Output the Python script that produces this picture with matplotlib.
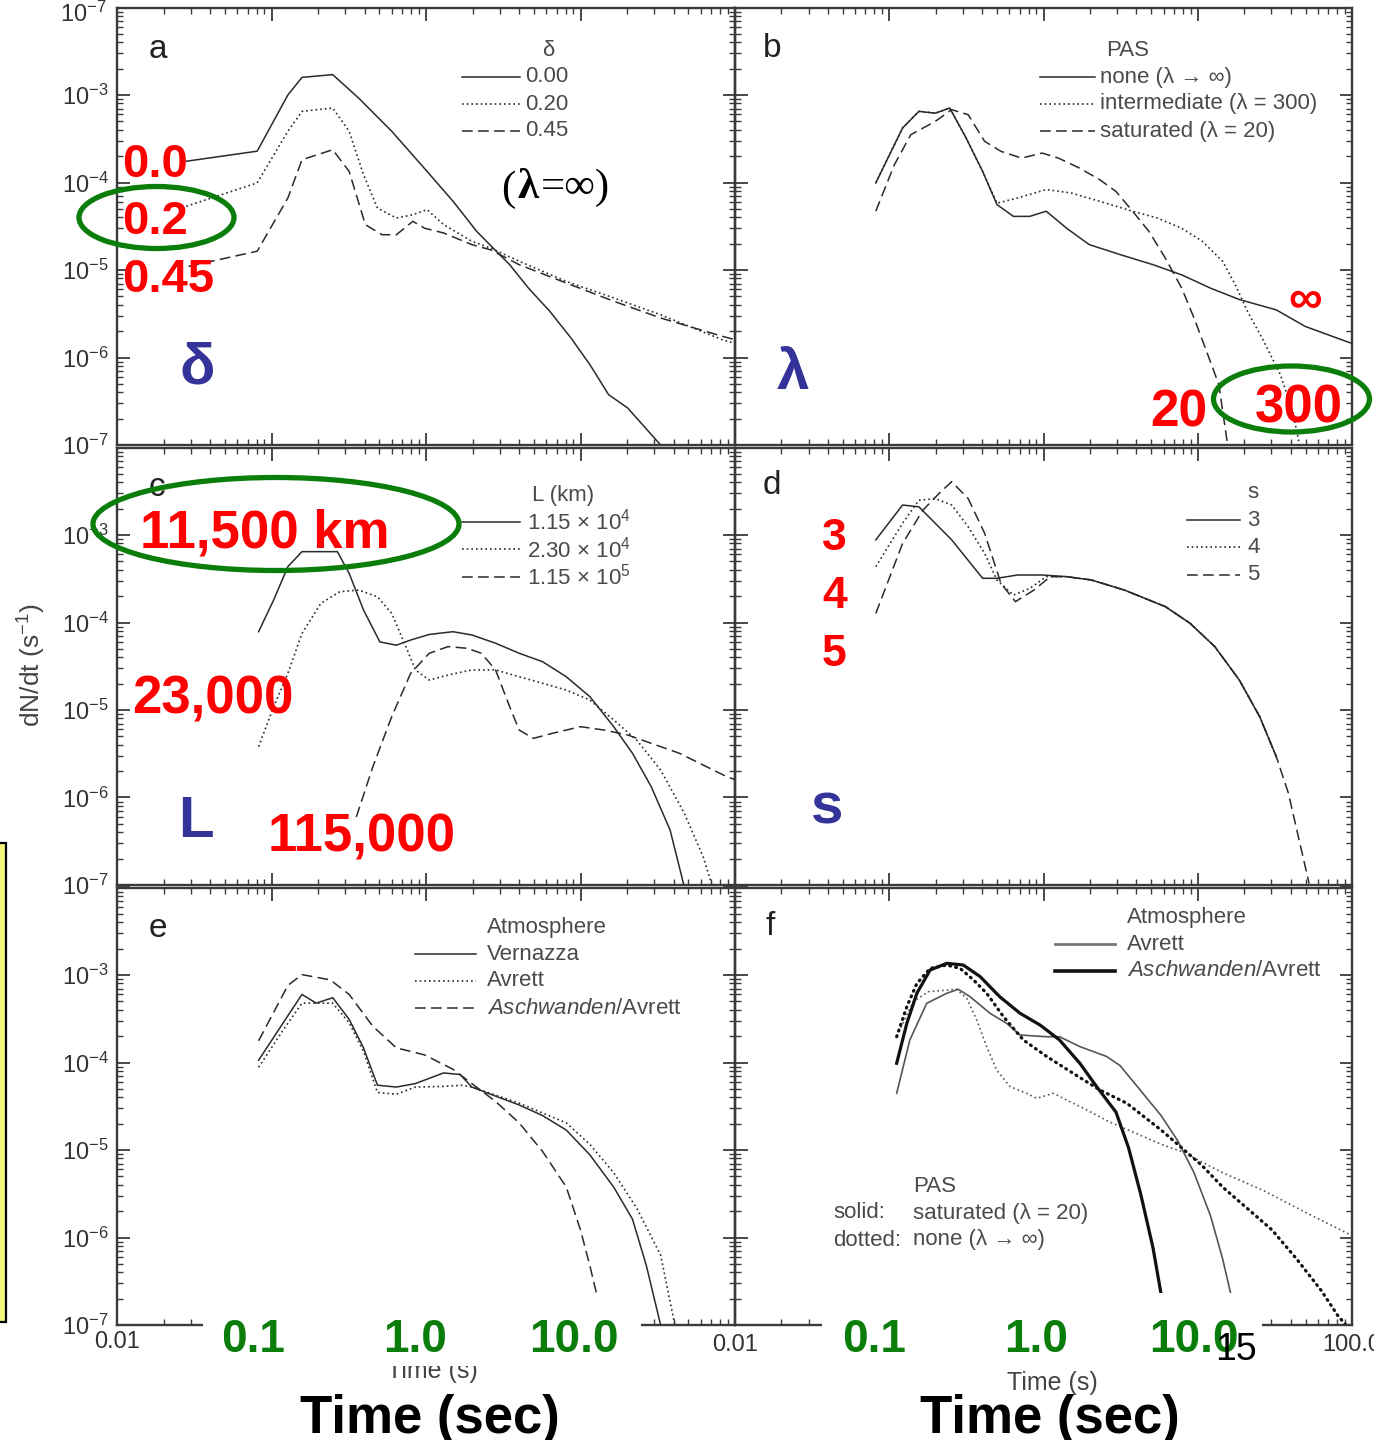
import numpy as np
import matplotlib
matplotlib.use("Agg")
import matplotlib.pyplot as plt
from matplotlib.patches import Ellipse, Rectangle
from matplotlib.lines import Line2D
from matplotlib.ticker import LogLocator, NullFormatter, FixedLocator
from matplotlib import font_manager as fm

# ---------------- data (time in s, dN/dt in 1/s) ----------------
# panel a : delta
a_t_000 = [0.0281, 0.0808, 0.1276, 0.1575, 0.249, 0.367, 0.600, 1.016, 1.496, 2.126, 2.72, 3.48, 4.61, 6.33, 8.68, 11.5, 15.2, 20.2, 33.0]
a_v_000 = [1.75e-4, 2.28e-4, 1.0e-3, 1.59e-3, 1.71e-3, 9.2e-4, 3.85e-4, 1.34e-4, 6.1e-5, 2.77e-5, 1.78e-5, 1.15e-5, 6.2e-6, 3.37e-6, 1.67e-6, 8.3e-7, 3.76e-7, 2.65e-7, 1.0e-7]
a_t_020 = [0.0281, 0.0808, 0.1276, 0.1575, 0.249, 0.318, 0.394, 0.485, 0.643, 0.822, 1.016, 1.30, 1.98, 2.62, 4.01, 8.09, 16.4, 33.0, 82.4, 100]
a_v_020 = [5.35e-5, 9.9e-5, 3.85e-4, 6.5e-4, 7.1e-4, 3.85e-4, 1.23e-4, 5.1e-5, 3.93e-5, 4.28e-5, 4.9e-5, 3.3e-5, 2.13e-5, 1.78e-5, 1.26e-5, 7.4e-6, 4.8e-6, 3.08e-6, 1.6e-6, 1.45e-6]
a_t_045 = [0.029, 0.0808, 0.1276, 0.1575, 0.249, 0.318, 0.405, 0.519, 0.643, 0.822, 0.98, 1.30, 1.98, 2.62, 4.01, 8.09, 16.4, 33.0, 82.4, 100]
a_v_045 = [1.1e-5, 1.64e-5, 6.65e-5, 1.82e-4, 2.37e-4, 1.34e-4, 3.3e-5, 2.53e-5, 2.53e-5, 3.6e-5, 3.0e-5, 2.65e-5, 1.95e-5, 1.7e-5, 1.15e-5, 7.1e-6, 4.4e-6, 2.83e-6, 1.75e-6, 1.6e-6]

# panel b : pitch-angle scattering
b_t_none = [0.0818, 0.122, 0.1556, 0.199, 0.2466, 0.315, 0.403, 0.499, 0.638, 0.815, 1.041, 1.413, 1.98, 3.14, 5.13, 7.87, 12.1, 18.6, 32.3, 49.6, 91.4, 100]
b_v_none = [9.9e-5, 4.2e-4, 6.5e-4, 6.2e-4, 7.1e-4, 3.23e-4, 1.34e-4, 5.6e-5, 4.1e-5, 4.1e-5, 4.7e-5, 3.0e-5, 1.95e-5, 1.5e-5, 1.15e-5, 8.8e-6, 6.2e-6, 4.6e-6, 3.5e-6, 2.27e-6, 1.53e-6, 1.45e-6]
b_t_300 = [0.0818, 0.122, 0.1556, 0.199, 0.2466, 0.315, 0.403, 0.499, 0.679, 1.041, 1.505, 2.31, 3.78, 5.45, 7.87, 10.7, 14.5, 17.5, 21.0, 26.8, 34.3, 41.2, 45.2]
b_v_300 = [9.9e-5, 4.2e-4, 6.5e-4, 6.2e-4, 7.1e-4, 3.23e-4, 1.34e-4, 5.8e-5, 6.65e-5, 8.3e-5, 7.6e-5, 6.1e-5, 4.7e-5, 3.93e-5, 3.0e-5, 2.13e-5, 1.26e-5, 6.8e-6, 3.37e-6, 1.53e-6, 6.4e-7, 2.43e-7, 1.1e-7]
b_t_20 = [0.0818, 0.108, 0.138, 0.199, 0.254, 0.325, 0.415, 0.530, 0.721, 0.98, 1.25, 1.70, 2.31, 2.95, 3.78, 4.82, 6.16, 7.87, 9.46, 11.4, 13.7, 15.5]
b_v_20 = [4.7e-5, 1.6e-4, 3.52e-4, 5.0e-4, 6.8e-4, 5.95e-4, 2.96e-4, 2.27e-4, 1.9e-4, 2.17e-4, 1.9e-4, 1.47e-4, 1.08e-4, 7.9e-5, 4.7e-5, 2.77e-5, 1.37e-5, 6.2e-6, 2.83e-6, 1.18e-6, 4.9e-7, 1.1e-7]

# panel c : loop length
c_t_1 = [0.0825, 0.1033, 0.1276, 0.1575, 0.267, 0.318, 0.394, 0.503, 0.643, 0.795, 1.05, 1.496, 1.98, 2.82, 4.01, 5.69, 8.09, 11.5, 16.4, 21.7, 28.7, 38.0, 47.0]
c_v_1 = [7.85e-5, 1.81e-4, 4.35e-4, 6.45e-4, 6.45e-4, 3.65e-4, 1.39e-4, 6.0e-5, 5.5e-5, 6.3e-5, 7.3e-5, 7.85e-5, 7.2e-5, 5.8e-5, 4.45e-5, 3.56e-5, 2.4e-5, 1.42e-5, 6.45e-6, 3.2e-6, 1.33e-6, 4.25e-7, 9.5e-8]
c_t_2 = [0.0825, 0.1033, 0.1276, 0.1575, 0.209, 0.277, 0.367, 0.485, 0.600, 0.741, 0.853, 1.05, 1.39, 1.98, 2.82, 4.01, 5.69, 8.09, 11.5, 16.4, 23.2, 33.0, 47.0, 62.2, 71.6]
c_v_2 = [3.81e-6, 1.09e-5, 2.62e-5, 7.5e-5, 1.66e-4, 2.25e-4, 2.35e-4, 1.97e-4, 1.27e-4, 5.3e-5, 2.87e-5, 2.2e-5, 2.51e-5, 2.87e-5, 2.87e-5, 2.4e-5, 2.02e-5, 1.69e-5, 1.3e-5, 7.7e-6, 4.5e-6, 2.06e-6, 6.6e-7, 2.1e-7, 9.5e-8]
c_t_3 = [0.354, 0.453, 0.600, 0.795, 1.05, 1.39, 1.85, 2.28, 2.82, 3.48, 4.01, 4.95, 6.55, 10.0, 14.2, 20.2, 28.7, 43.7, 62.2, 88.4, 100]
c_v_3 = [6.0e-7, 2.25e-6, 8.4e-6, 2.62e-5, 4.45e-5, 5.3e-5, 5.07e-5, 4.45e-5, 2.87e-5, 1.09e-5, 5.9e-6, 4.74e-6, 5.4e-6, 6.45e-6, 5.9e-6, 5.18e-6, 4.16e-6, 3.2e-6, 2.35e-6, 1.73e-6, 1.6e-6]

# panel d : s
d_t_3 = [0.0818, 0.122, 0.1556, 0.254, 0.403, 0.499, 0.679, 0.98, 1.413, 2.045, 3.34, 6.16, 8.91, 12.9, 18.6, 25.2, 32.3]
d_v_3 = [8.8e-4, 2.2e-3, 2.1e-3, 8.8e-4, 3.2e-4, 3.2e-4, 3.49e-4, 3.49e-4, 3.34e-4, 3.06e-4, 2.35e-4, 1.52e-4, 9.8e-5, 5.3e-5, 2.2e-5, 8.4e-6, 2.93e-6]
d_t_4 = [0.0818, 0.122, 0.1556, 0.199, 0.254, 0.325, 0.415, 0.499, 0.638, 0.815, 1.041, 1.413, 2.045, 3.34, 6.16, 8.91, 12.9, 18.6, 25.2, 32.3]
d_v_4 = [4.35e-4, 1.36e-3, 2.5e-3, 2.6e-3, 2.2e-3, 1.24e-3, 6.2e-4, 3.06e-4, 2.06e-4, 2.45e-4, 3.34e-4, 3.34e-4, 3.06e-4, 2.35e-4, 1.52e-4, 9.8e-5, 5.3e-5, 2.2e-5, 8.4e-6, 2.93e-6]
d_t_5 = [0.0818, 0.122, 0.1656, 0.211, 0.254, 0.325, 0.415, 0.530, 0.658, 0.867, 1.107, 1.413, 2.045, 3.34, 6.16, 8.91, 12.9, 18.6, 25.2, 32.3, 38.7, 52.7]
d_v_5 = [1.27e-4, 8.0e-4, 1.93e-3, 3.0e-3, 4.07e-3, 2.6e-3, 1.05e-3, 2.8e-4, 1.73e-4, 2.35e-4, 3.34e-4, 3.34e-4, 3.06e-4, 2.35e-4, 1.52e-4, 9.8e-5, 5.3e-5, 2.2e-5, 8.4e-6, 2.93e-6, 1.12e-6, 1.04e-7]

# panel e : atmosphere
e_t_ver = [0.0825, 0.119, 0.1575, 0.1946, 0.249, 0.318, 0.394, 0.485, 0.643, 0.853, 1.30, 1.663, 1.98, 2.82, 4.01, 5.69, 8.09, 11.5, 16.4, 21.7, 26.7, 33.0]
e_v_ver = [1.06e-4, 2.84e-4, 6.0e-4, 4.77e-4, 5.5e-4, 3.12e-4, 1.47e-4, 5.5e-5, 5.24e-5, 5.74e-5, 7.6e-5, 7.28e-5, 5.24e-5, 4.13e-5, 3.27e-5, 2.47e-5, 1.69e-5, 8.8e-6, 3.77e-6, 1.62e-6, 4.76e-7, 1.0e-7]
e_t_avr = [0.0825, 0.119, 0.1575, 0.1946, 0.249, 0.318, 0.394, 0.485, 0.643, 0.853, 1.30, 1.72, 1.98, 4.01, 8.09, 11.5, 16.4, 23.2, 33.0, 40.8]
e_v_avr = [8.8e-5, 2.35e-4, 4.77e-4, 4.77e-4, 4.77e-4, 2.84e-4, 1.34e-4, 4.54e-5, 4.34e-5, 5.24e-5, 5.33e-5, 5.5e-5, 5.24e-5, 3.43e-5, 2.04e-5, 1.16e-5, 5.5e-6, 2.14e-6, 6.3e-7, 1.0e-7]
e_t_asc = [0.0825, 0.1276, 0.1575, 0.240, 0.318, 0.453, 0.643, 0.98, 1.496, 1.98, 2.82, 4.01, 5.69, 8.09, 10.0, 11.5, 14.2]
e_v_asc = [1.77e-4, 7.6e-4, 1.01e-3, 8.8e-4, 6.0e-4, 2.59e-4, 1.47e-4, 1.22e-4, 8.36e-5, 5.74e-5, 3.59e-5, 2.04e-5, 9.6e-6, 3.77e-6, 1.22e-6, 4.76e-7, 1.0e-7]

# panel f : atmosphere x PAS
f_t_avr_sat = [0.1117, 0.136, 0.175, 0.236, 0.28, 0.334, 0.45, 0.577, 0.705, 1.05, 1.27, 1.72, 2.57, 3.14, 4.27, 5.79, 7.41, 9.46, 12.1, 14.5, 16.4, 19.8]
f_v_avr_sat = [4.45e-5, 1.81e-4, 4.75e-4, 6.18e-4, 6.87e-4, 5.65e-4, 3.65e-4, 2.8e-4, 2.06e-4, 1.97e-4, 1.97e-4, 1.52e-4, 1.17e-4, 9.2e-5, 4.76e-5, 2.47e-5, 1.28e-5, 5.5e-6, 1.77e-6, 5.7e-7, 2.24e-7, 1.0e-7]
f_t_avr_none = [0.112, 0.143, 0.179, 0.273, 0.318, 0.369, 0.428, 0.497, 0.607, 0.778, 0.904, 1.158, 1.41, 1.905, 2.61, 3.55, 5.79, 7.87, 14.5, 26.8, 49.6, 100]
f_v_avr_none = [2.0e-4, 4.95e-4, 6.44e-4, 6.87e-4, 5.42e-4, 3.06e-4, 1.52e-4, 8.2e-5, 5.3e-5, 4.44e-5, 3.9e-5, 4.44e-5, 3.73e-5, 2.87e-5, 2.14e-5, 1.69e-5, 1.16e-5, 9.6e-6, 5.5e-6, 3.43e-6, 1.95e-6, 1.05e-6]
f_t_asc_sat = [0.1117, 0.13, 0.151, 0.184, 0.236, 0.302, 0.388, 0.52, 0.705, 0.95, 1.27, 1.72, 2.21, 2.95, 3.56, 4.27, 5.13, 5.79, 6.5]
f_v_asc_sat = [9.8e-5, 2.8e-4, 6.18e-4, 1.14e-3, 1.36e-3, 1.3e-3, 9.6e-4, 5.65e-4, 3.65e-4, 2.68e-4, 1.81e-4, 9.8e-5, 5.3e-5, 2.71e-5, 1.06e-5, 3.12e-6, 7.6e-7, 2.24e-7, 1.0e-7]
f_t_asc_none = [0.1117, 0.13, 0.151, 0.184, 0.236, 0.288, 0.351, 0.428, 0.55, 0.74, 1.05, 1.56, 2.32, 3.47, 5.79, 7.87, 10.7, 14.5, 21.0, 30.3, 43.7, 63.3, 80.9, 91.4]
f_v_asc_none = [1.97e-4, 4.35e-4, 8.0e-4, 1.19e-3, 1.3e-3, 1.19e-3, 8.8e-4, 6.18e-4, 3.34e-4, 1.81e-4, 1.17e-4, 7.5e-5, 4.85e-5, 3.42e-5, 1.69e-5, 1.06e-5, 6.6e-6, 3.77e-6, 2.14e-6, 1.22e-6, 5.7e-7, 2.47e-7, 1.28e-7, 1.0e-7]

ytick_vals = [1e-7, 1e-6, 1e-5, 1e-4, 1e-3, 1e-2]
ytick_labels = [r"$10^{-7}$", r"$10^{-6}$", r"$10^{-5}$", r"$10^{-4}$", r"$10^{-3}$", ""]

# ---------------- styling ----------------
names = {f.name for f in fm.fontManager.ttflist}
SANS = "Liberation Sans" if "Liberation Sans" in names else "DejaVu Sans"
SERIF = "Liberation Serif" if "Liberation Serif" in names else "DejaVu Serif"
plt.rcParams["font.family"] = [SANS, "DejaVu Sans"]
plt.rcParams["mathtext.fontset"] = "custom"
plt.rcParams["mathtext.rm"] = SANS
plt.rcParams["mathtext.it"] = SANS + ":italic"
plt.rcParams["mathtext.bf"] = SANS + ":bold"

W, H = 1374, 1440
fig = plt.figure(figsize=(W / 100, H / 100), dpi=100)

LINE = "#2a2a2a"
GRAYTXT = "#4a4a4a"
RED = "#ff0000"
BLUE = "#333399"
GREEN = "#0a7d0a"

S_SOLID = dict(ls="-", lw=1.1, color=LINE)
S_DOT = dict(ls=(0, (1, 1.8)), lw=1.2, color=LINE)
S_DASH = dict(ls=(0, (7, 3.5)), lw=1.1, color=LINE)


def fx(x):
    return x / W


def fy(y):
    return 1 - y / H


def make_axes(x0, x1, y_top, y_bot, left):
    ax = fig.add_axes([fx(x0), fy(y_bot), (x1 - x0) / W, (y_bot - y_top) / H])
    ax.set_facecolor("none")
    ax.set_xscale("log")
    ax.set_yscale("log")
    ax.set_xlim(0.01, 100)
    ax.set_ylim(1e-7, 1e-2)
    ax.xaxis.set_major_locator(FixedLocator([0.01, 0.1, 1, 10, 100]))
    ax.xaxis.set_minor_locator(LogLocator(base=10, subs=np.arange(2, 10), numticks=30))
    ax.yaxis.set_major_locator(FixedLocator(ytick_vals))
    ax.yaxis.set_minor_locator(LogLocator(base=10, subs=np.arange(2, 10), numticks=30))
    ax.xaxis.set_minor_formatter(NullFormatter())
    ax.yaxis.set_minor_formatter(NullFormatter())
    ax.tick_params(which="both", direction="in", top=True, right=True,
                   labelbottom=False, labelleft=left, colors="#3a3a3a",
                   labelcolor="#333333")
    ax.tick_params(which="major", length=9, width=1.3, labelsize=17, pad=6)
    ax.tick_params(which="minor", length=4.5, width=1.0)
    if left:
        ax.set_yticks(ytick_vals)
        ax.set_yticklabels(ytick_labels)
    else:
        ax.set_yticklabels([])
    ax.set_xticklabels([])
    for sp in ax.spines.values():
        sp.set_linewidth(1.7)
        sp.set_color("#3a3a3a")
    return ax


XL0, XM, XR1 = 117, 735, 1352
ROWS = [(7.5, 445), (447.5, 885), (887.5, 1325)]
ax_a = make_axes(XL0, XM, *ROWS[0], True)
ax_b = make_axes(XM, XR1, *ROWS[0], False)
ax_c = make_axes(XL0, XM, *ROWS[1], True)
ax_d = make_axes(XM, XR1, *ROWS[1], False)
ax_e = make_axes(XL0, XM, *ROWS[2], True)
ax_f = make_axes(XM, XR1, *ROWS[2], False)

# curves
ax_a.plot(a_t_000, a_v_000, **S_SOLID)
ax_a.plot(a_t_020, a_v_020, **S_DOT)
ax_a.plot(a_t_045, a_v_045, **S_DASH)

ax_b.plot(b_t_none, b_v_none, **S_SOLID)
ax_b.plot(b_t_300, b_v_300, **S_DOT)
ax_b.plot(b_t_20, b_v_20, **S_DASH)

ax_c.plot(c_t_1, c_v_1, **S_SOLID)
ax_c.plot(c_t_2, c_v_2, **S_DOT)
ax_c.plot(c_t_3, c_v_3, **S_DASH)

ax_d.plot(d_t_5, d_v_5, **S_DASH)
ax_d.plot(d_t_4, d_v_4, **S_DOT)
ax_d.plot(d_t_3, d_v_3, **S_SOLID)

ax_e.plot(e_t_ver, e_v_ver, **S_SOLID)
ax_e.plot(e_t_avr, e_v_avr, **S_DOT)
ax_e.plot(e_t_asc, e_v_asc, **S_DASH)

THIN = dict(lw=1.2, color="#555555")
THICK = dict(lw=2.3, color="#111111")
ax_f.plot(f_t_avr_sat, f_v_avr_sat, ls="-", **THIN)
ax_f.plot(f_t_avr_none, f_v_avr_none, ls=(0, (1, 1.8)), **THIN)
ax_f.plot(f_t_asc_sat, f_v_asc_sat, ls="-", **THICK)
ax_f.plot(f_t_asc_none, f_v_asc_none, ls=(0, (0.3, 1.6)), dash_capstyle="round", **THICK)

# ---------------- text helpers ----------------
def ftext(x, y, s, **kw):
    return fig.text(fx(x), fy(y), s, **kw)


def legend(title, tx, ty, entries, lx0, lx1, textx, y0, dy, fs=16):
    ftext(tx, ty, title, ha="center", va="center", fontsize=fs, color=GRAYTXT)
    for i, (label, style) in enumerate(entries):
        y = y0 + i * dy
        fig.add_artist(Line2D([fx(lx0), fx(lx1)], [fy(y), fy(y)],
                              transform=fig.transFigure, **style))
        ftext(textx, y, label, ha="left", va="center", fontsize=fs, color=GRAYTXT)


legend("δ", 548, 51, [("0.00", S_SOLID), ("0.20", S_DOT), ("0.45", S_DASH)],
       462, 520, 525, 77, 27)
legend("PAS", 1128, 51, [("none (λ → ∞)", S_SOLID), ("intermediate (λ = 300)", S_DOT),
                         ("saturated (λ = 20)", S_DASH)], 1040, 1095, 1100, 77, 27)
legend("L (km)", 563, 496, [(r"1.15 × 10$^{4}$", S_SOLID), (r"2.30 × 10$^{4}$", S_DOT),
                            (r"1.15 × 10$^{5}$", S_DASH)], 462, 520, 527, 522, 27.5)
legend("s", 1253, 493, [("3", S_SOLID), ("4", S_DOT), ("5", S_DASH)],
       1187, 1240, 1247, 520, 27.5)
legend("Atmosphere", 547, 927, [("Vernazza", S_SOLID), ("Avrett", S_DOT),
                                (r"$\mathit{Aschwanden}$/Avrett", S_DASH)],
       415, 476, 487, 954, 27)
legend("Atmosphere", 1187, 918, [("Avrett", dict(ls="-", lw=2.0, color="#777777")),
                                 (r"$\mathit{Aschwanden}$/Avrett", dict(ls="-", lw=2.6, color="#111111"))],
       1055, 1115, 1127, 944, 27)

ftext(935, 1186, "PAS", ha="center", va="center", fontsize=16, color=GRAYTXT)
ftext(833, 1213, "solid:", ha="left", va="center", fontsize=16, color=GRAYTXT)
ftext(913, 1213, "saturated (λ = 20)", ha="left", va="center", fontsize=16, color=GRAYTXT)
ftext(833, 1240, "dotted:", ha="left", va="center", fontsize=16, color=GRAYTXT)
ftext(913, 1240, "none (λ → ∞)", ha="left", va="center", fontsize=16, color=GRAYTXT)

# panel letters
for s, x, y in [("a", 149, 58), ("b", 763, 57), ("c", 149, 496),
                ("d", 763, 494), ("e", 149, 937), ("f", 765, 935)]:
    ftext(x, y, s, ha="left", va="baseline", fontsize=24, color="#222222")

# extra top y label and x labels
ftext(83, 14, r"$10^{-7}$", ha="center", va="center", fontsize=17, color="#333333")
ftext(117, 1342, "0.01", ha="center", va="center", fontsize=17, color="#333333")
ftext(735, 1345, "0.01", ha="center", va="center", fontsize=17, color="#333333")
ftext(1352, 1345, "100.0", ha="center", va="center", fontsize=17, color="#333333")
ftext(432, 1371, "Time (s)", ha="center", va="center", fontsize=18, color="#444444")
ftext(1052, 1383, "Time (s)", ha="center", va="center", fontsize=18, color="#444444")
ftext(32, 665, r"dN/dt (s$^{-1}$)", ha="center", va="center", rotation=90,
      fontsize=19, color="#444444")

# (lambda = infinity)
ftext(501, 200, "(", ha="left", va="baseline", fontsize=31, family=SERIF, color="black")
ftext(517, 198, "λ", ha="left", va="baseline", fontsize=31, family=SERIF,
      weight="bold", color="black")
ftext(541, 198, "=∞)", ha="left", va="baseline", fontsize=31, family=SERIF, color="black")

# white cover boxes for bottom green tick labels
for (x0, x1, y0, y1) in [(203, 641, 1295, 1366), (822, 1262, 1293, 1368)]:
    fig.add_artist(Rectangle((fx(x0), fy(y1)), (x1 - x0) / W, (y1 - y0) / H,
                             transform=fig.transFigure, facecolor="white",
                             edgecolor="none", zorder=5))

BOLD = dict(weight="bold", family=SANS, zorder=6)
for s, x in [("0.1", 253), ("1.0", 415), ("10.0", 574), ("0.1", 874), ("1.0", 1036), ("10.0", 1194)]:
    ftext(x, 1352, s, ha="center", va="baseline", fontsize=33, color=GREEN, **BOLD)
ftext(1215, 1360, "15", ha="left", va="baseline", fontsize=27, color="black", zorder=7)
ftext(300, 1433, "Time (sec)", ha="left", va="baseline", fontsize=38, color="black", **BOLD)
ftext(920, 1433, "Time (sec)", ha="left", va="baseline", fontsize=38, color="black", **BOLD)

# red annotations
for s, x, y, fs in [("0.0", 122, 177, 34), ("0.2", 122, 234, 34), ("0.45", 122, 292, 34),
                    ("11,500 km", 140, 547, 38), ("23,000", 132, 714, 38),
                    ("115,000", 268, 852, 38), ("20", 1150, 427, 37), ("300", 1255, 422, 38),
                    ("3", 822, 550, 32), ("4", 822, 608, 32), ("5", 822, 666, 32)]:
    ftext(x, y, s, ha="left", va="baseline", fontsize=fs, color=RED, **BOLD)
ftext(1305, 301, "∞", ha="center", va="center", fontsize=34, color=RED, **BOLD)

# blue parameter symbols
for s, x, y in [("δ", 180, 384), ("λ", 777, 389), ("L", 178, 837), ("s", 811, 824)]:
    ftext(x, y, s, ha="left", va="baseline", fontsize=42, color=BLUE, **BOLD)

# green ellipses
for cx, cy, w, h in [(156.5, 217.5, 155, 62), (1291.5, 399, 156, 66), (276, 524, 366, 93)]:
    fig.add_artist(Ellipse((fx(cx), fy(cy)), w / W, h / H, transform=fig.transFigure,
                           fill=False, edgecolor=GREEN, lw=3.8, zorder=8))

# yellow box at left edge
fig.add_artist(Rectangle((fx(-3), fy(1322)), 9 / W, (1322 - 843) / H,
                         transform=fig.transFigure, facecolor="#f5f57c",
                         edgecolor="black", lw=1.6, zorder=4))

fig.savefig("out.png", dpi=100)
